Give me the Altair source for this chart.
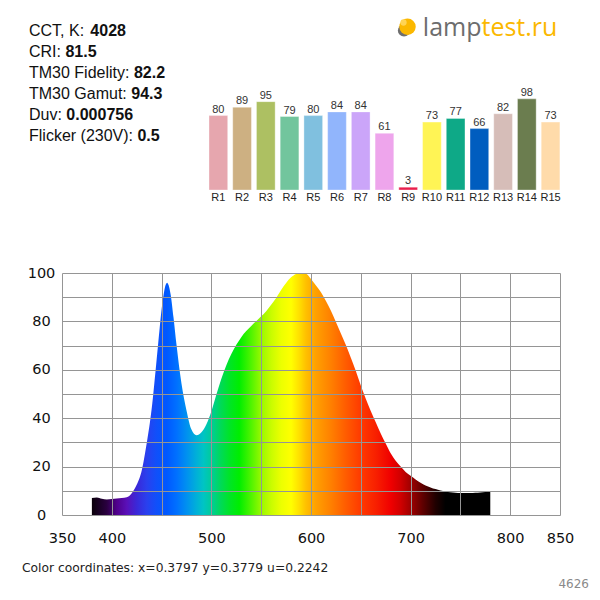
import altair as alt
import pandas as pd

# ---------------- data ----------------
wavelength_nm = [380, 385, 390, 395, 400, 405, 410, 415, 420, 425, 430, 435, 440, 445,
                 448, 450, 452, 454, 455.5, 457, 459, 462, 465, 470, 475, 480, 485, 490,
                 495, 500, 505, 510, 515, 520, 525, 530, 535, 540, 545, 550, 555, 560,
                 565, 570, 575, 580, 585, 590, 595, 600, 605, 610, 615, 620, 625, 630,
                 635, 640, 645, 650, 655, 660, 665, 670, 675, 680, 685, 690, 695, 700,
                 705, 710, 715, 720, 725, 730, 735, 740, 745, 750, 755, 760, 765, 770,
                 775, 780]
relative_intensity = [7.0, 7.2, 6.7, 6.4, 6.6, 6.8, 7.0, 7.3, 9.0, 12.5, 18.3, 29.5, 43.8, 64.2,
                      77.0, 85.0, 91.0, 95.0, 96.0, 95.0, 91.3, 81.5, 70.2, 54.2, 43.2, 35.3, 33.0, 34.2,
                      37.5, 42.9, 49.8, 56.3, 61.9, 66.5, 70.3, 73.5, 76.0, 78.1, 80.1, 82.1, 84.2, 86.9,
                      89.7, 93.0, 95.9, 98.2, 99.6, 100.0, 99.7, 97.5, 94.8, 92.0, 88.4, 84.4, 79.8, 75.0,
                      70.2, 65.0, 59.5, 53.5, 48.0, 43.0, 38.3, 33.7, 29.5, 25.5, 22.4, 20.0, 17.8, 16.2,
                      14.7, 13.3, 12.2, 11.4, 10.7, 10.1, 9.7, 9.4, 9.2, 9.1, 9.1, 9.1, 9.2, 9.3,
                      9.5, 9.6]

x_grid_values = [350, 400, 450, 500, 550, 600, 650, 700, 750, 800, 850]
x_tick_labels = [350, 400, 500, 600, 700, 800, 850]
y_grid_values = [0, 10, 20, 30, 40, 50, 60, 70, 80, 90, 100]
y_tick_labels = [0, 20, 40, 60, 80, 100]

cri_names = ["R1", "R2", "R3", "R4", "R5", "R6", "R7", "R8", "R9", "R10",
             "R11", "R12", "R13", "R14", "R15"]
cri_values = [80, 89, 95, 79, 80, 84, 84, 61, 3, 73, 77, 66, 82, 98, 73]
cri_colors = ["#e6a6ae", "#cdb082", "#adc062", "#72c59d", "#80c0df", "#91b5fc", "#cba5f9",
              "#eea5ec", "#ea1f4d", "#fff455", "#0ea987", "#005dbf", "#d6bdb8", "#6b7d4f",
              "#ffdbaa"]

info_labels = ["CCT, K:", "CRI:", "TM30 Fidelity:", "TM30 Gamut:", "Duv:", "Flicker (230V):"]
info_values = ["4028", "81.5", "82.2", "94.3", "0.000756", "0.5"]

color_coords_text = "Color coordinates: x=0.3797 y=0.3779 u=0.2242"
test_number = "4626"
logo_left = "lamp"
logo_right = "test.ru"

# spectrum colour ramp (wavelength, colour)
ramp_nm = [380, 395, 405, 415, 425, 435, 445, 455, 465, 475, 485, 492, 500, 508, 518, 528,
           540, 550, 560, 570, 580, 588, 595, 605, 620, 635, 650, 665, 680, 690, 700, 712,
           725, 735, 780]
ramp_colors = ["#0a000a", "#2a0040", "#50008c", "#5a10b8", "#3a28d8", "#2a40ee", "#1050fa",
               "#0058ff", "#0070ff", "#0090f0", "#00b0d8", "#00c4c4", "#00cc9a", "#00d860",
               "#00e428", "#00ee00", "#50f400", "#98f800", "#c8fc00", "#ecff00", "#ffff00",
               "#ffe000", "#ffc000", "#ffa000", "#ff8000", "#ff5c00", "#ff3a00", "#f82000",
               "#f00000", "#d00000", "#a00000", "#600000", "#200000", "#000000", "#000000"]

# ---------------- layout ----------------
W, H = 498, 242
OX, OY = 62, 273          # absolute position of plot origin on the page
PAD_L, PAD_T = OX - 8, OY - 8
INFO_SIZE = 16


def rx(a):
    return a - OX


def ry(a):
    return a - OY


ARIAL = {' ': 278, ',': 278, '.': 278, ':': 278, '(': 333, ')': 333,
         '0': 556, '1': 556, '2': 556, '3': 556, '4': 556, '5': 556, '6': 556, '7': 556, '8': 556, '9': 556,
         'C': 722, 'T': 611, 'K': 667, 'R': 722, 'I': 278, 'M': 833, 'F': 611, 'G': 778, 'D': 722, 'V': 667,
         'a': 556, 'c': 500, 'd': 556, 'e': 556, 'i': 222, 'k': 500, 'l': 222, 'm': 833, 'r': 333,
         't': 278, 'u': 556, 'v': 500, 'y': 500}


def text_width(s, size):
    return sum(ARIAL.get(ch, 556) for ch in s) / 1000.0 * size


one_row = pd.DataFrame({"k": [0]})


def label(text, x, y, size, weight="normal", color="#111111", font="Liberation Sans", align="left"):
    return alt.Chart(one_row).mark_text(
        text=text, align=align, baseline="alphabetic", font=font, fontSize=size,
        fontWeight=weight, color=color
    ).encode(x=alt.value(x), y=alt.value(y))


# ---------------- spectrum ----------------
spec_df = pd.DataFrame({"nm": wavelength_nm, "v": relative_intensity})
grad = alt.Gradient(
    gradient="linear", x1=0, x2=1, y1=0, y2=0,
    stops=[alt.GradientStop(color=c, offset=(n - ramp_nm[0]) / (ramp_nm[-1] - ramp_nm[0]))
           for n, c in zip(ramp_nm, ramp_colors)],
)
x_label_expr = "indexof([" + ",".join(str(v) for v in x_tick_labels) + "], datum.value) >= 0 ? datum.label : ''"
y_label_expr = "indexof([" + ",".join(str(v) for v in y_tick_labels) + "], datum.value) >= 0 ? datum.label : ''"

spectrum = alt.Chart(spec_df).mark_area(interpolate="monotone", color=grad).encode(
    x=alt.X("nm:Q", scale=alt.Scale(domain=[350, 850], nice=False, zero=False),
            axis=alt.Axis(values=x_grid_values, labelExpr=x_label_expr, title=None,
                          grid=True, gridColor="#959595", gridWidth=1, domain=False,
                          ticks=False, tickSize=0, labelPadding=16, labelFont="DejaVu Sans",
                          labelFontSize=14.5, labelColor="#111111", labelFlush=False,
                          labelOverlap=False, labelBaseline="top", zindex=1)),
    y=alt.Y("v:Q", scale=alt.Scale(domain=[0, 100], nice=False),
            axis=alt.Axis(values=y_grid_values, labelExpr=y_label_expr, title=None,
                          grid=True, gridColor="#959595", gridWidth=1, domain=False,
                          ticks=False, tickSize=0, labelPadding=21, labelAlign="center",
                          labelBaseline="middle", labelFont="DejaVu Sans", labelFontSize=14.5,
                          labelColor="#111111", labelOverlap=False, zindex=1)),
)

# ---------------- CRI bars ----------------
cri_df = pd.DataFrame({"name": cri_names, "value": cri_values})
bx = alt.X("name:N", sort=cri_names,
           scale=alt.Scale(domain=cri_names, range=[rx(209), rx(559.9)],
                           paddingInner=0.212, paddingOuter=0), axis=None)
by = alt.Y("value:Q", scale=alt.Scale(domain=[0, 100], range=[ry(190), ry(97)], nice=False),
           axis=None)
bars = alt.Chart(cri_df).mark_bar(stroke="white", strokeOpacity=0.35, strokeWidth=1).encode(
    x=bx, y=by,
    color=alt.Color("name:N", scale=alt.Scale(domain=cri_names, range=cri_colors), legend=None),
)
bar_vals = alt.Chart(cri_df).mark_text(
    dy=-3, baseline="alphabetic", font="Liberation Sans", fontSize=11, color="#333333"
).encode(x=bx, y=by, text="value:Q")
bar_names = alt.Chart(cri_df).mark_text(
    dy=11, baseline="alphabetic", font="Liberation Sans", fontSize=11, color="#222222"
).encode(x=bx, y=alt.datum(0), text="name:N")
bar_layer = alt.layer(bars, bar_vals, bar_names)

# ---------------- text annotations ----------------
annos = []
for i, (lab, val) in enumerate(zip(info_labels, info_values)):
    base = ry(36.2 + 21 * i)
    annos.append(label(lab, rx(29), base, INFO_SIZE))
    annos.append(label(val, rx(29) + text_width(lab + " ", INFO_SIZE), base, INFO_SIZE, weight="bold"))

annos.append(label(color_coords_text, rx(22), ry(571.5), 12.3, font="DejaVu Sans", color="#222222"))
annos.append(label(test_number, rx(589), ry(587.5), 12, font="DejaVu Sans", color="#8a8a8a",
                   align="right"))

# logo
logo_shadow = alt.Chart(one_row).mark_circle(size=150, color="#6e6e6e", opacity=1).encode(
    x=alt.value(rx(404)), y=alt.value(ry(30.5)))
logo_bulb = alt.Chart(one_row).mark_circle(size=270, color="#fbb800", opacity=1).encode(
    x=alt.value(rx(407.5)), y=alt.value(ry(26.7)))
logo_hl = alt.Chart(one_row).mark_circle(size=40, color="#ffd454", opacity=1).encode(
    x=alt.value(rx(403.5)), y=alt.value(ry(22.5)))
annos.append(logo_shadow)
annos.append(logo_bulb)
annos.append(logo_hl)
annos.append(label(logo_left, rx(481.5), ry(35.7), 25, font="Open Sans", color="#6d6d6d",
                   align="right"))
annos.append(label(logo_right, rx(481.5), ry(35.7), 25, font="Open Sans", color="#fbb800"))

chart = alt.layer(spectrum, bar_layer, *annos).resolve_scale(
    x="independent", y="independent", color="independent"
).properties(
    width=W, height=H,
    autosize=alt.AutoSizeParams(type="none"),
    padding={"left": PAD_L, "top": PAD_T, "right": 600 - 16 - PAD_L - W, "bottom": 600 - 16 - PAD_T - H},
    background="white",
).configure_view(stroke=None)

chart.save("out.html", embed_options={"renderer": "svg", "actions": False})
